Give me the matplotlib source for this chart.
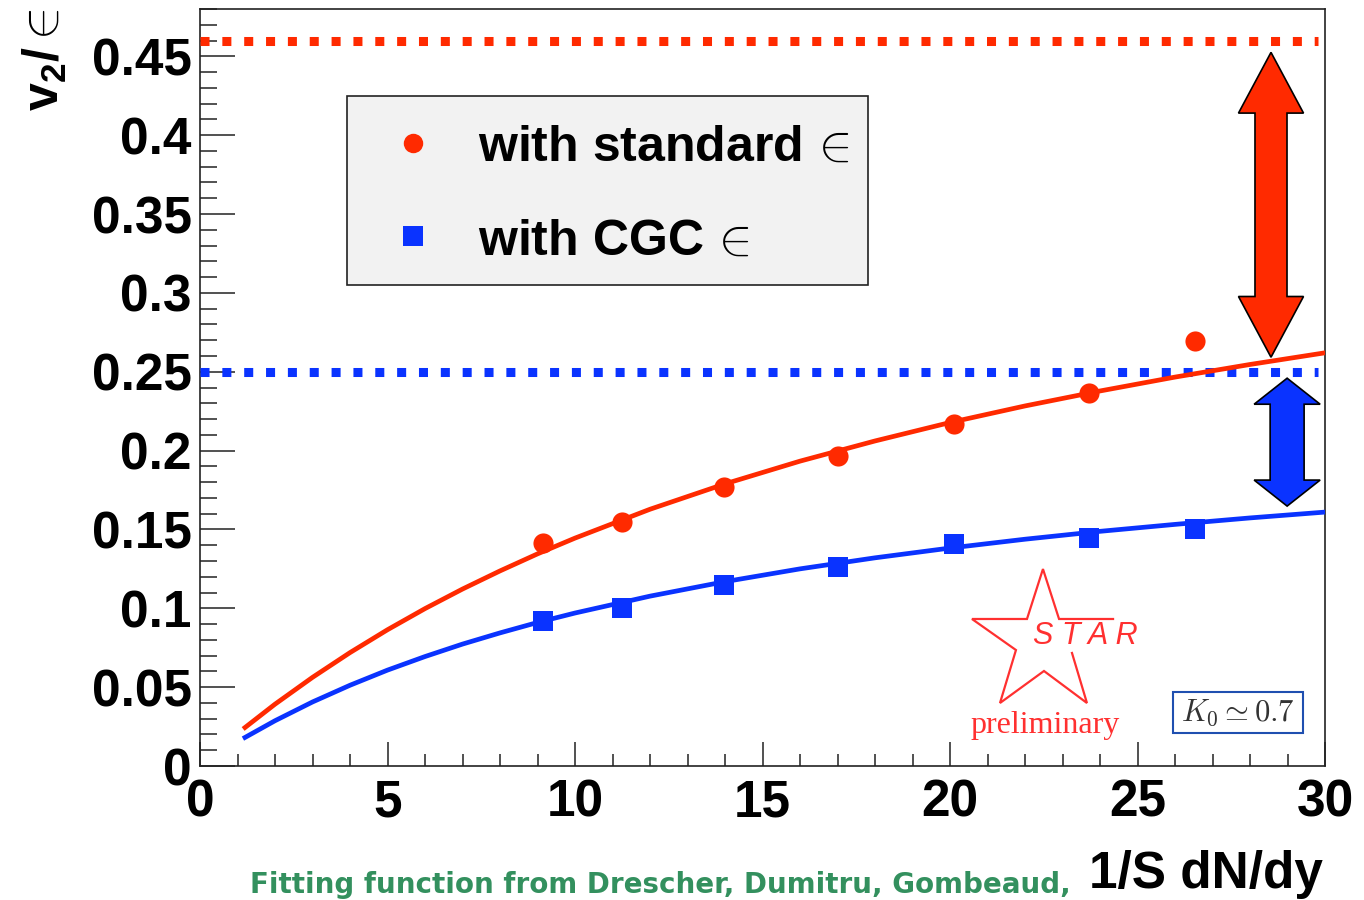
import matplotlib
matplotlib.use("Agg")
import matplotlib.pyplot as plt
from matplotlib.patches import Polygon, Rectangle
from matplotlib.lines import Line2D
from matplotlib.ticker import MultipleLocator, FixedLocator, FixedFormatter

plt.rcParams['font.family'] = ['Liberation Sans', 'DejaVu Sans']
plt.rcParams['mathtext.fontset'] = 'custom'
plt.rcParams['mathtext.rm'] = 'Liberation Sans'
plt.rcParams['mathtext.bf'] = 'Liberation Sans:bold'
plt.rcParams['mathtext.it'] = 'Liberation Sans:italic'
plt.rcParams['mathtext.sf'] = 'Liberation Sans'

# measured v2/eps versus 1/S dN/dy
mult = [9.15, 11.25, 13.97, 17.01, 20.10, 23.70, 26.53]
v2_std = [0.1413, 0.1546, 0.1768, 0.1965, 0.2167, 0.2364, 0.2693]
v2_cgc = [0.0919, 0.1001, 0.1147, 0.1260, 0.1407, 0.1445, 0.1500]

# fitted curves (Drescher-Dumitru-Gombeaud-Ollitrault form)
fit_x = [1.2, 2, 3, 4, 5, 6, 7, 8, 9, 10, 12, 14, 16, 18, 20, 22, 24, 26, 28, 30]
fit_std = [0.0244, 0.0392, 0.0562, 0.0719, 0.0864, 0.0998, 0.1122, 0.1237, 0.1345,
           0.1445, 0.1628, 0.1789, 0.1933, 0.2061, 0.2178, 0.2283, 0.2378, 0.2466,
           0.2546, 0.2620]
fit_cgc = [0.0181, 0.0287, 0.0406, 0.0512, 0.0608, 0.0694, 0.0773, 0.0844, 0.0910,
           0.0970, 0.1077, 0.1169, 0.1250, 0.1320, 0.1382, 0.1438, 0.1488, 0.1532,
           0.1573, 0.1610]

# hydrodynamic limits
hydro_std = 0.46
hydro_cgc = 0.25

y_ticks = [0, 0.05, 0.1, 0.15, 0.2, 0.25, 0.3, 0.35, 0.4, 0.45]
y_ticklabels = ['0', '0.05', '0.1', '0.15', '0.2', '0.25', '0.3', '0.35', '0.4', '0.45']
x_ticks = [0, 5, 10, 15, 20, 25, 30]
x_ticklabels = ['0', '5', '10', '15', '20', '25', '30']

RED = '#ff2a00'
BLUE = '#0a33ff'
STARRED = '#ff3030'

W, H = 1364, 900
fig = plt.figure(figsize=(W / 100, H / 100), dpi=100)
ax = fig.add_axes([200 / W, 134 / H, 1125 / W, 757 / H])
ax.set_xlim(0, 30)
ax.set_ylim(0, 0.48)

for s in ax.spines.values():
    s.set_linewidth(1.2)
    s.set_color('#222222')

ax.yaxis.set_major_locator(FixedLocator(y_ticks))
ax.yaxis.set_major_formatter(FixedFormatter(y_ticklabels))
ax.yaxis.set_minor_locator(MultipleLocator(0.01))
ax.xaxis.set_major_locator(FixedLocator(x_ticks))
ax.xaxis.set_major_formatter(FixedFormatter(x_ticklabels))
ax.xaxis.set_minor_locator(MultipleLocator(1))

ax.tick_params(axis='y', which='major', direction='in', length=25, width=1.1,
               color='#222222', pad=6, labelsize=37)
ax.tick_params(axis='y', which='minor', direction='in', length=12.5, width=1.1,
               color='#222222')
ax.tick_params(axis='x', which='major', direction='in', length=17, width=1.1,
               color='#222222', pad=9, labelsize=37)
ax.tick_params(axis='x', which='minor', direction='in', length=8.6, width=1.1,
               color='#222222')
for lab in ax.get_xticklabels() + ax.get_yticklabels():
    lab.set_fontweight('bold')

# hydro limits as dotted lines
ax.hlines(hydro_std, 0, 29.8, colors=RED, linewidth=6.5,
          linestyles=(0, (1.0, 1.42)), capstyle='butt', zorder=3, clip_on=False)
ax.hlines(hydro_cgc, 0, 29.8, colors=BLUE, linewidth=6.5,
          linestyles=(0, (1.0, 1.42)), capstyle='butt', zorder=3)

# fit curves and data points
ax.plot(fit_x, fit_std, color=RED, lw=3.4, zorder=4)
ax.plot(fit_x, fit_cgc, color=BLUE, lw=3.4, zorder=4)
ax.plot(mult, v2_std, 'o', color=RED, ms=14.5, mew=0, zorder=5)
ax.plot(mult, v2_cgc, 's', color=BLUE, ms=15, mew=0, zorder=5)


def double_arrow(xc, y_top, y_bot, head_len, head_hw, shaft_hw, color):
    pts = [
        (xc, y_top),
        (xc + head_hw, y_top - head_len),
        (xc + shaft_hw, y_top - head_len),
        (xc + shaft_hw, y_bot + head_len),
        (xc + head_hw, y_bot + head_len),
        (xc, y_bot),
        (xc - head_hw, y_bot + head_len),
        (xc - shaft_hw, y_bot + head_len),
        (xc - shaft_hw, y_top - head_len),
        (xc - head_hw, y_top - head_len),
    ]
    ax.add_patch(Polygon(pts, closed=True, facecolor=color, edgecolor='black',
                         linewidth=1.2, joinstyle='miter', zorder=6))


double_arrow(28.56, 0.4525, 0.2592, 0.0385, 0.867, 0.427, RED)
double_arrow(28.99, 0.2459, 0.1648, 0.0165, 0.88, 0.453, BLUE)

# legend box
ta = ax.transAxes
ax.add_patch(Rectangle((0.1307, 0.6354), 0.4631, 0.2497, transform=ta,
                       facecolor='#f2f2f2', edgecolor='#222222', linewidth=1.2,
                       zorder=7))
ax.add_line(Line2D([0.1893], [0.8230], marker='o', color=RED, ms=14, mew=0,
                   transform=ta, zorder=8))
ax.add_line(Line2D([0.1893], [0.7001], marker='s', color=BLUE, ms=15, mew=0,
                   transform=ta, zorder=8))
ax.text(0.2471, 0.8164, r'with standard$\,\in$', transform=ta, fontsize=36,
        fontweight='bold', ha='left', va='center', zorder=8)
ax.text(0.2471, 0.6922, r'with CGC$\,\in$', transform=ta, fontsize=36,
        fontweight='bold', ha='left', va='center', zorder=8)

# STAR preliminary logo
star_path = [(0.7751, 0.1493), (0.7884, 0.0832), (0.7502, 0.1255), (0.7111, 0.0832),
             (0.7253, 0.1532), (0.6862, 0.1942), (0.7351, 0.1942), (0.7493, 0.2602),
             (0.7636, 0.1942), (0.8116, 0.1942)]
ax.add_line(Line2D([p[0] for p in star_path], [p[1] for p in star_path],
                   color=STARRED, lw=1.6, transform=ta, zorder=6,
                   solid_joinstyle='miter'))
ax.text(0.7867, 0.1717, 'S T A R', transform=ta, fontsize=22, style='italic',
        color=STARRED, ha='center', va='center', zorder=6)
ax.text(0.7511, 0.0436, 'preliminary', transform=ta, fontsize=23,
        family='Liberation Serif', color=STARRED, ha='center', va='baseline',
        zorder=6)

# K0 box
ax.add_patch(Rectangle((0.8649, 0.0436), 0.1155, 0.0542, transform=ta,
                       facecolor='white', edgecolor='#1f4fb0', linewidth=1.5,
                       zorder=6))
ax.text(0.9227, 0.0707, r'$K_0 \simeq 0.7$', transform=ta, fontsize=22,
        math_fontfamily='cm', color='#333333', ha='center', va='center', zorder=7)

# axis titles
fig.text(45 / W, 1 - 9 / H, r'$\mathbf{v_{2}/}\in$', rotation=90, fontsize=36,
         ha='center', va='top')
fig.text(1323 / W, 1 - 888 / H, '1/S dN/dy', fontsize=37, fontweight='bold',
         ha='right', va='baseline')
fig.text(250 / W, 1 - 893 / H, 'Fitting function from Drescher, Dumitru, Gombeaud,',
         fontsize=20, fontweight='bold', color='#33905e', family='DejaVu Sans',
         ha='left', va='baseline')

fig.savefig('out.png', dpi=100)
